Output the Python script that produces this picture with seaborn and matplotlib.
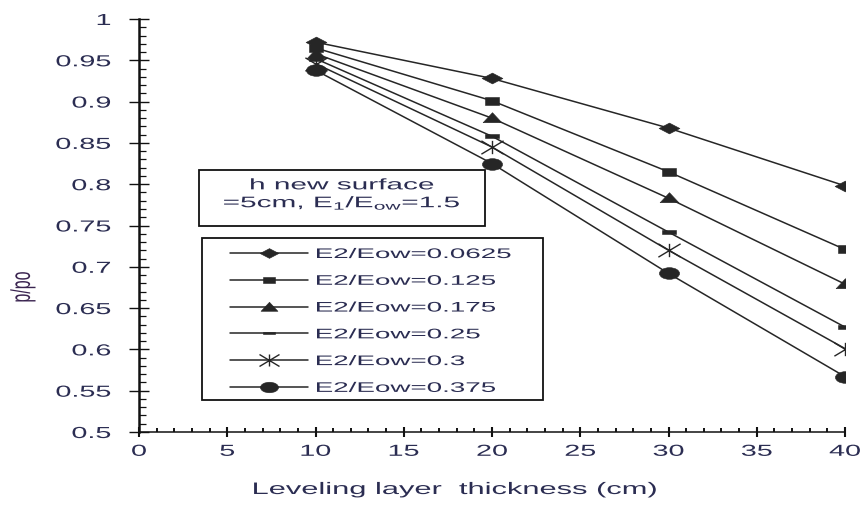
import numpy as np
import matplotlib
matplotlib.use("Agg")
import matplotlib.pyplot as plt
import seaborn as sns
from matplotlib.path import Path
from matplotlib.patches import Rectangle
from matplotlib.patheffects import AbstractPathEffect
from matplotlib.transforms import Affine2D
from matplotlib.ticker import FixedLocator, MultipleLocator

# ---- data -------------------------------------------------------------
thickness = [10, 20, 30, 40]
ratio_0625 = [0.972, 0.928, 0.868, 0.798]
ratio_125 = [0.965, 0.901, 0.815, 0.721]
ratio_175 = [0.958, 0.880, 0.783, 0.679]
ratio_25 = [0.952, 0.858, 0.742, 0.627]
ratio_3 = [0.946, 0.845, 0.720, 0.601]
ratio_375 = [0.938, 0.825, 0.692, 0.567]

series_labels = ["E2/Eow=0.0625", "E2/Eow=0.125", "E2/Eow=0.175",
                 "E2/Eow=0.25", "E2/Eow=0.3", "E2/Eow=0.375"]
series_values = [ratio_0625, ratio_125, ratio_175, ratio_25, ratio_3, ratio_375]

x_ticks = [0, 5, 10, 15, 20, 25, 30, 35, 40]
y_ticks = [0.5, 0.55, 0.6, 0.65, 0.7, 0.75, 0.8, 0.85, 0.9, 0.95, 1.0]
y_tick_labels = ["0.5", "0.55", "0.6", "0.65", "0.7", "0.75", "0.8",
                 "0.85", "0.9", "0.95", "1"]

x_title = "Leveling layer  thickness (cm)"
y_title = "p/po"
note_text = "h new surface\n=5cm, E$_{1}$/E$_{\\mathrm{ow}}$=1.5"

# ---- style ------------------------------------------------------------
sns.set_theme(style="ticks")
plt.rcParams["font.family"] = ["Liberation Sans", "DejaVu Sans"]
plt.rcParams["mathtext.fontset"] = "custom"
plt.rcParams["mathtext.rm"] = "Liberation Sans"
plt.rcParams["mathtext.it"] = "Liberation Sans:italic"
TEXT = "#2b2d52"
LINE = "#262626"


class Widen(AbstractPathEffect):
    """Draw text glyphs widened along one glyph axis."""

    def __init__(self, factor, anchor="left", axis="x"):
        super().__init__()
        self.factor = factor
        self.anchor = anchor
        self.axis = axis

    def draw_path(self, renderer, gc, tpath, affine, rgbFace=None):
        ext = tpath.get_extents()
        if self.axis == "x":
            pivot = {"left": 0.0, "center": 0.5 * (ext.x0 + ext.x1),
                     "right": ext.x1}[self.anchor]
            t = Affine2D().translate(-pivot, 0).scale(self.factor, 1).translate(pivot, 0)
        else:
            pivot = 0.5 * (ext.y0 + ext.y1)
            t = Affine2D().translate(0, -pivot).scale(1, self.factor).translate(0, pivot)
        renderer.draw_path(gc, tpath, t + affine, rgbFace)


def wide_marker(kind):
    if kind == "diamond":
        v = [(0, 0.52), (1, 0), (0, -0.52), (-1, 0), (0, 0.52)]
        c = [Path.MOVETO, Path.LINETO, Path.LINETO, Path.LINETO, Path.CLOSEPOLY]
        return Path(v, c)
    if kind == "square":
        v = [(-1, -0.57), (1, -0.57), (1, 0.57), (-1, 0.57), (-1, -0.57)]
        c = [Path.MOVETO, Path.LINETO, Path.LINETO, Path.LINETO, Path.CLOSEPOLY]
        return Path(v, c)
    if kind == "triangle":
        v = [(-1, -0.45), (1, -0.45), (0, 0.62), (-1, -0.45)]
        c = [Path.MOVETO, Path.LINETO, Path.LINETO, Path.CLOSEPOLY]
        return Path(v, c)
    if kind == "dash":
        v = [(-1, -0.25), (1, -0.25), (1, 0.25), (-1, 0.25), (-1, -0.25)]
        c = [Path.MOVETO, Path.LINETO, Path.LINETO, Path.LINETO, Path.CLOSEPOLY]
        return Path(v, c)
    if kind == "star":
        a = 0.6
        v = [(0, -a), (0, a), (-1, -a), (1, a), (-1, a), (1, -a)]
        c = [Path.MOVETO, Path.LINETO] * 3
        return Path(v, c)
    circ = Path.unit_circle()
    return Path(circ.vertices * np.array([1.0, 0.58]), circ.codes)


marker_kinds = ["diamond", "square", "triangle", "dash", "star", "circle"]
marker_sizes = [15, 9.5, 13.5, 9.5, 16, 14.5]

W, H = 862, 505
fig = plt.figure(figsize=(W / 100, H / 100), dpi=100)
ax = fig.add_axes([139 / W, 1 - 432 / H, 706 / W, 413 / H])

for label, vals, kind, ms in zip(series_labels, series_values, marker_kinds, marker_sizes):
    star = kind == "star"
    sns.lineplot(x=thickness, y=vals, ax=ax, color=LINE, linewidth=1.1,
                 marker=wide_marker(kind), markersize=ms,
                 markerfacecolor=LINE if not star else "none",
                 markeredgecolor=LINE, markeredgewidth=1.0 if star else 0.4,
                 label=label)

ax.set_xlim(0, 40)
ax.set_ylim(0.5, 1.0)
ax.xaxis.set_major_locator(FixedLocator(x_ticks))
ax.yaxis.set_major_locator(FixedLocator(y_ticks))
ax.set_yticklabels(y_tick_labels)
ax.set_xticklabels([str(t) for t in x_ticks])
ax.xaxis.set_minor_locator(MultipleLocator(1))
ax.yaxis.set_minor_locator(MultipleLocator(0.01))

for side in ("top", "right"):
    ax.spines[side].set_visible(False)
ax.spines["left"].set_linewidth(1.8)
ax.spines["bottom"].set_linewidth(1.1)
ax.spines["left"].set_color("#111111")
ax.spines["bottom"].set_color("#111111")

ax.tick_params(axis="y", which="major", direction="inout", length=14.5, width=1.0,
               color="#111111", pad=13, labelsize=11.5, labelcolor=TEXT)
ax.tick_params(axis="y", which="minor", direction="in", length=5, width=0.9, color="#111111")
ax.tick_params(axis="x", which="major", direction="inout", length=7, width=1.5,
               color="#111111", pad=5, labelsize=11.5, labelcolor=TEXT)
ax.tick_params(axis="x", which="minor", direction="in", length=2.6, width=1.4, color="#111111")

for t in ax.get_yticklabels():
    t.set_path_effects([Widen(1.8, "right")])
for t in ax.get_xticklabels():
    t.set_path_effects([Widen(1.8, "center")])

ax.set_xlabel(x_title, fontsize=12, color=TEXT, path_effects=[Widen(1.85, "center")])
ax.xaxis.set_label_coords((455 - 139) / 706, (432 - 482) / 413)
ax.set_ylabel(y_title, fontsize=11.5, color="#3a2450", path_effects=[Widen(1.7, axis="y")])
ax.yaxis.set_label_coords((30 - 139) / 706, (432 - 287) / 413)

# legend (box drawn separately so it spans the widened labels)
leg = ax.legend(loc="upper left", bbox_to_anchor=(230 / W, 1 - 247 / H),
                bbox_transform=fig.transFigure, frameon=False, borderpad=0,
                borderaxespad=0, handlelength=5.6, handletextpad=0.5,
                labelspacing=0.92, markerscale=0.9, prop={"size": 10})
for t in leg.get_texts():
    t.set_color(TEXT)
    t.set_path_effects([Widen(2.0, "left")])

fig.patches.append(Rectangle((202 / W, 1 - 400 / H), 341 / W, 162 / H,
                             transform=fig.transFigure, fill=False,
                             edgecolor="#111111", linewidth=1.3))
fig.patches.append(Rectangle((199 / W, 1 - 226 / H), 286 / W, 56 / H,
                             transform=fig.transFigure, fill=False,
                             edgecolor="#111111", linewidth=1.3))
fig.text(342 / W, 1 - 195 / H, note_text, ha="center", va="center",
         multialignment="center", fontsize=11, color=TEXT, linespacing=1.15,
         path_effects=[Widen(1.95, "center")])

fig.savefig("out.png", dpi=100)
